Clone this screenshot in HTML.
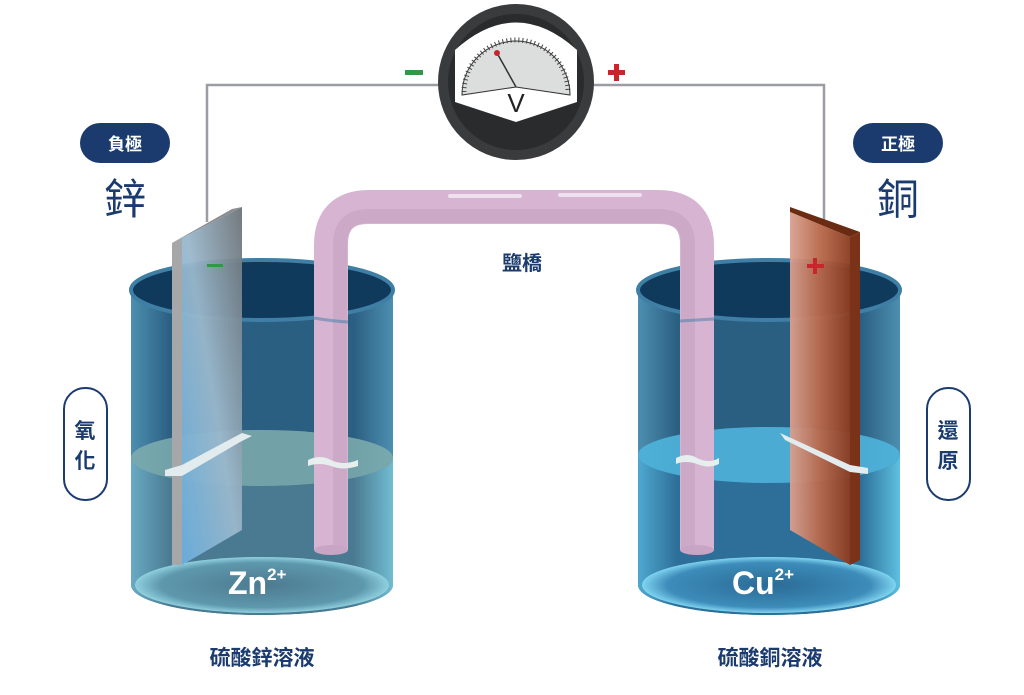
<!DOCTYPE html>
<html><head><meta charset="utf-8"><style>
html,body{margin:0;padding:0;background:#fff;}
svg{display:block;font-family:"Liberation Sans","Noto Sans CJK TC",sans-serif;}
</style></head><body>
<svg width="1024" height="695" viewBox="0 0 1024 695" xmlns="http://www.w3.org/2000/svg">
<defs>
<linearGradient id="bk" x1="0" x2="1"><stop offset="0" stop-color="#4d8fb0"/><stop offset="0.15" stop-color="#2b5f82"/><stop offset="0.85" stop-color="#2b5f82"/><stop offset="1" stop-color="#4d8fb0"/></linearGradient>
<linearGradient id="liqL" x1="0" x2="1"><stop offset="0" stop-color="#6aaac4"/><stop offset="0.15" stop-color="#4a7a91"/><stop offset="0.85" stop-color="#4a7a91"/><stop offset="1" stop-color="#72bcd2"/></linearGradient>
<linearGradient id="liqR" x1="0" x2="1"><stop offset="0" stop-color="#4fa8d0"/><stop offset="0.15" stop-color="#2d6f99"/><stop offset="0.85" stop-color="#2d6f99"/><stop offset="1" stop-color="#5ec0e0"/></linearGradient>
<linearGradient id="zn" x1="0" x2="1" y1="1" y2="0"><stop offset="0" stop-color="#6aaedc"/><stop offset="0.5" stop-color="#9ab8cc"/><stop offset="1" stop-color="#6d7378"/></linearGradient>
<linearGradient id="cu" x1="0" x2="1"><stop offset="0" stop-color="#d9a090"/><stop offset="0.5" stop-color="#b8684a"/><stop offset="1" stop-color="#8a3b1f"/></linearGradient>
<radialGradient id="botL" cx="0.5" cy="0.5" r="0.5"><stop offset="0" stop-color="#4d7a8f"/><stop offset="0.8" stop-color="#5e98ad"/><stop offset="1" stop-color="#8fd0de"/></radialGradient>
<radialGradient id="botR" cx="0.5" cy="0.5" r="0.5"><stop offset="0" stop-color="#2a6b95"/><stop offset="0.8" stop-color="#3d8cba"/><stop offset="1" stop-color="#7fd4f0"/></radialGradient>
</defs>

<polyline points="207,222 207,85 445,85" fill="none" stroke="#9a9ea4" stroke-width="2.5"/>
<polyline points="588,85 824,85 824,222" fill="none" stroke="#9a9ea4" stroke-width="2.5"/>
<rect x="405" y="70" width="18" height="5" fill="#2e9a48"/>
<rect x="608" y="70" width="17" height="5" fill="#c8262c"/><rect x="614" y="64" width="5" height="17" fill="#c8262c"/>

<circle cx="516" cy="82" r="78" fill="#3a3b3d"/>
<circle cx="516" cy="82" r="68" fill="#2a2b2c"/>
<path d="M455,102 L455,50 Q516,-5 577,50 L577,102 L516,122 Z" fill="#fff"/>
<path d="M462,95 A54,54 0 0 1 570,95 L516,87 Z" fill="#dcdddd" stroke="#333" stroke-width="1"/>
<path d="M464,92 A52,52 0 0 1 568,92" fill="none" stroke="#444" stroke-width="5" stroke-dasharray="1 3"/>
<line x1="516" y1="87" x2="497" y2="53" stroke="#333" stroke-width="1.5"/>
<circle cx="497" cy="53" r="3" fill="#c8262c"/>
<text x="516" y="112" font-size="26" text-anchor="middle" fill="#222">V</text>

<path d="M131,290 L131,585 A131,30 0 0 0 393,585 L393,290 Z" fill="url(#bk)"/>
<ellipse cx="262" cy="290" rx="131" ry="30" fill="#0f3a5c"/>
<path d="M131,458 A131,28 0 0 0 393,458 L393,585 A131,30 0 0 1 131,585 Z" fill="url(#liqL)"/>
<ellipse cx="262" cy="585" rx="127" ry="28" fill="url(#botL)"/>
<ellipse cx="262" cy="458" rx="131" ry="28" fill="#7faeaf" opacity="0.85"/>
<ellipse cx="262" cy="290" rx="131" ry="30" fill="none" stroke="#3f7ea5" stroke-width="4"/>

<path d="M638,290 L638,585 A131,30 0 0 0 900,585 L900,290 Z" fill="url(#bk)"/>
<ellipse cx="769" cy="290" rx="131" ry="30" fill="#0f3a5c"/>
<path d="M638,455 A131,28 0 0 0 900,455 L900,585 A131,30 0 0 1 638,585 Z" fill="url(#liqR)"/>
<ellipse cx="769" cy="585" rx="127" ry="28" fill="url(#botR)"/>
<ellipse cx="769" cy="455" rx="131" ry="28" fill="#4fb4dc" opacity="0.9"/>
<ellipse cx="769" cy="290" rx="131" ry="30" fill="none" stroke="#3f7ea5" stroke-width="4"/>

<path d="M331,550 L331,245 Q331,207 369,207 L658,207 Q697,207 697,245 L697,550" fill="none" stroke="#d6b4d2" stroke-width="34"/>
<path d="M340,550 L340,245 Q340,216 369,216 L658,216 Q688,216 688,245 L688,550" fill="none" stroke="#bf9dbb" stroke-width="14" opacity="0.5"/>
<ellipse cx="331" cy="550" rx="17" ry="5" fill="#c8a5c4"/>
<ellipse cx="697" cy="550" rx="17" ry="5" fill="#c8a5c4"/>
<path d="M450,196 L520,196 M560,195 L640,195" stroke="#efe0ee" stroke-width="4" stroke-linecap="round"/>
<path d="M314,318 Q331,321 348,322" stroke="#3f7ea5" stroke-width="3" fill="none" opacity="0.5"/>
<path d="M680,321 Q697,320 714,319" stroke="#3f7ea5" stroke-width="3" fill="none" opacity="0.5"/>
<path d="M308,460 q12,-6 23,0 q12,6 27,0 l0,6 q-15,5 -27,0 q-12,-4 -23,0Z" fill="#e6eeee"/>
<path d="M676,458 q12,-6 21,0 q12,6 22,0 l0,6 q-10,5 -22,0 q-12,-4 -21,0Z" fill="#e6eeee"/>

<polygon points="172,243 182,238 182,565 172,565" fill="#a6a7a9"/>
<polygon points="172,243 232,209 242,207 182,238" fill="#8c8d90"/>
<polygon points="182,238 242,207 242,530 182,565" fill="url(#zn)" opacity="0.95"/>
<rect x="207" y="264" width="16" height="3" fill="#2e9a48"/>
<path d="M165,470 L182,465 L242,433 L252,436 L240,442 L182,476 L165,476Z" fill="#e2ecee"/>

<polygon points="790,207 860,232 850,237 790,212" fill="#6b2a12"/>
<polygon points="850,237 860,232 860,560 850,565" fill="#7a3318"/>
<polygon points="790,212 850,237 850,565 790,530" fill="url(#cu)" opacity="0.95"/>
<rect x="807" y="264" width="17" height="4" fill="#c8262c"/><rect x="813" y="258" width="4" height="16" fill="#c8262c"/>
<path d="M780,433 L850,465 L868,468 L868,474 L850,472 L785,440Z" fill="#e2ecee"/>

<text x="228" y="594" font-size="32" font-weight="bold" fill="#fff">Zn<tspan font-size="17" dy="-14">2+</tspan></text>
<text x="732" y="594" font-size="32" font-weight="bold" fill="#fff">Cu<tspan font-size="17" dy="-14">2+</tspan></text>

<rect x="80" y="123" width="90" height="40" rx="20" fill="#1b3b6e"/>
<text x="125" y="150" font-size="17" font-weight="bold" fill="#fff" text-anchor="middle">負極</text>
<text x="125" y="214" font-size="42" fill="#1b3b6e" text-anchor="middle">鋅</text>
<rect x="853" y="123" width="90" height="40" rx="20" fill="#1b3b6e"/>
<text x="898" y="150" font-size="17" font-weight="bold" fill="#fff" text-anchor="middle">正極</text>
<text x="898" y="214" font-size="42" fill="#1b3b6e" text-anchor="middle">銅</text>
<text x="522" y="270" font-size="20" font-weight="bold" fill="#1b3b6e" text-anchor="middle">鹽橋</text>
<rect x="64" y="388" width="43" height="112" rx="21" fill="#fff" stroke="#1b3b6e" stroke-width="2"/>
<text x="85" y="438" font-size="21" font-weight="bold" fill="#1b3b6e" text-anchor="middle">氧</text>
<text x="85" y="468" font-size="21" font-weight="bold" fill="#1b3b6e" text-anchor="middle">化</text>
<rect x="927" y="388" width="43" height="112" rx="21" fill="#fff" stroke="#1b3b6e" stroke-width="2"/>
<text x="948" y="438" font-size="21" font-weight="bold" fill="#1b3b6e" text-anchor="middle">還</text>
<text x="948" y="468" font-size="21" font-weight="bold" fill="#1b3b6e" text-anchor="middle">原</text>
<text x="262" y="665" font-size="21" font-weight="bold" fill="#1b3b6e" text-anchor="middle">硫酸鋅溶液</text>
<text x="770" y="665" font-size="21" font-weight="bold" fill="#1b3b6e" text-anchor="middle">硫酸銅溶液</text>
</svg>
</body></html>
